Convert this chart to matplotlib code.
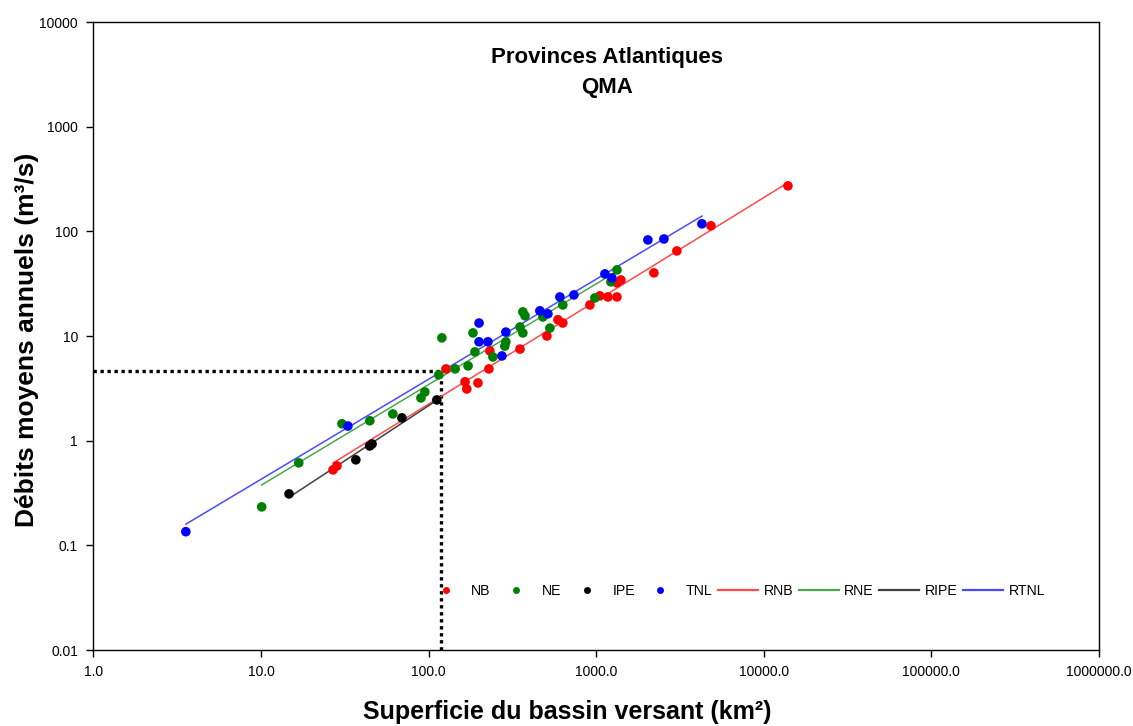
import numpy as np
import matplotlib
matplotlib.use("Agg")
import matplotlib.pyplot as plt
from matplotlib.lines import Line2D

plt.rcParams['font.family'] = ['Liberation Sans', 'DejaVu Sans']

# ---------------- data ----------------
nb_area = [26.9, 28.4, 127, 165, 169, 197, 229, 232, 351, 508, 591, 632, 917, 1052,
           1175, 1330, 1330, 1404, 2209, 3030, 4835, 13930]
nb_flow = [0.526, 0.574, 4.85, 3.65, 3.12, 3.56, 4.85, 7.2, 7.5, 10.0, 14.3, 13.3, 19.8,
           24.2, 23.6, 23.6, 32.2, 34.3, 40.1, 65.0, 113, 272]

ne_area = [10.1, 16.8, 30.4, 44.6, 61.2, 90, 95, 115, 120, 144, 172, 184, 189, 242, 289,
           285, 351, 365, 365, 376, 481, 529, 632, 982, 1224, 1330]
ne_flow = [0.233, 0.614, 1.45, 1.55, 1.80, 2.56, 2.92, 4.25, 9.6, 4.85, 5.18, 10.7, 7.05,
           6.3, 8.8, 8.0, 12.2, 10.7, 17.0, 15.6, 15.2, 11.9, 19.8, 23.1, 32.9, 42.8]

ipe_area = [14.7, 36.8, 44.5, 46.0, 69.3, 112]
ipe_flow = [0.310, 0.656, 0.89, 0.93, 1.65, 2.45]

tnl_area = [3.56, 33, 200, 200, 226, 289, 274, 461, 515, 607, 736, 1127, 1241, 2034,
            2535, 4273]
tnl_flow = [0.135, 1.38, 13.3, 8.8, 8.8, 10.9, 6.45, 17.4, 16.3, 23.6, 24.7, 39.2, 35.9,
            82.8, 84.5, 118]

ref_area = 118
ref_flow = 4.64

x_ticks = [1, 10, 100, 1000, 10000, 100000, 1000000]
x_tick_labels = ["1.0", "10.0", "100.0", "1000.0", "10000.0", "100000.0", "1000000.0"]
y_ticks = [0.01, 0.1, 1, 10, 100, 1000, 10000]
y_tick_labels = ["0.01", "0.1", "1", "10", "100", "1000", "10000"]

series = [
    ("NB", "RNB", nb_area, nb_flow, "#ff0000", "#ff4a4a"),
    ("NE", "RNE", ne_area, ne_flow, "#008000", "#4ca64c"),
    ("IPE", "RIPE", ipe_area, ipe_flow, "#000000", "#404040"),
    ("TNL", "RTNL", tnl_area, tnl_flow, "#0000ff", "#4a4aff"),
]

# ---------------- figure ----------------
W, H = 1133, 726
fig = plt.figure(figsize=(W / 100, H / 100), dpi=100)
ax = fig.add_axes([93.4 / W, 1 - 650 / H, (1099 - 93.4) / W, (650 - 22) / H])
ax.set_xscale("log")
ax.set_yscale("log")
ax.set_xlim(1, 1e6)
ax.set_ylim(0.01, 1e4)

# reference dotted lines
ax.plot([1, ref_area], [ref_flow, ref_flow], color="black", lw=2.4,
        linestyle=(0, (1, 1.1)), zorder=1)
ax.plot([ref_area, ref_area], [0.01, ref_flow], color="black", lw=2.4,
        linestyle=(0, (1, 1.1)), zorder=1)

for name, rname, xs, ys, mc, lc in series:
    xs = np.asarray(xs, float)
    ys = np.asarray(ys, float)
    b, a = np.polyfit(np.log10(xs), np.log10(ys), 1)
    xl = np.array([xs.min(), xs.max()])
    ax.plot(xl, 10 ** (a + b * np.log10(xl)), color=lc, lw=1.1, zorder=2)
    ax.scatter(xs, ys, s=48, color=mc, edgecolors="none", zorder=3)

ax.xaxis.set_major_locator(matplotlib.ticker.FixedLocator(x_ticks))
ax.xaxis.set_major_formatter(matplotlib.ticker.FixedFormatter(x_tick_labels))
ax.yaxis.set_major_locator(matplotlib.ticker.FixedLocator(y_ticks))
ax.yaxis.set_major_formatter(matplotlib.ticker.FixedFormatter(y_tick_labels))
ax.xaxis.set_minor_locator(matplotlib.ticker.NullLocator())
ax.yaxis.set_minor_locator(matplotlib.ticker.NullLocator())
ax.tick_params(axis="both", direction="out", length=5, width=1, labelsize=10,
               colors="black", pad=6)
for sp in ax.spines.values():
    sp.set_linewidth(1.0)

fig.text(567 / W, 1 - 712 / H, "Superficie du bassin versant (km²)", ha="center",
         va="center", fontsize=18, fontweight="bold")
fig.text(27 / W, 1 - 340 / H, "Débits moyens annuels (m³/s)", ha="center",
         va="center", rotation=90, fontsize=19, fontweight="bold")

fig.text(607 / W, 1 - 57 / H, "Provinces Atlantiques", ha="center", va="center",
         fontsize=16, fontweight="bold")
fig.text(607 / W, 1 - 88 / H, "QMA", ha="center", va="center",
         fontsize=16, fontweight="bold")

# legend
handles = []
labels = []
for name, rname, xs, ys, mc, lc in series:
    handles.append(Line2D([], [], linestyle="none", marker="o", markersize=5,
                          markerfacecolor=mc, markeredgecolor="none"))
    labels.append(name)
for name, rname, xs, ys, mc, lc in series:
    handles.append(Line2D([], [], color=lc, lw=1.6))
    labels.append(rname)
leg = fig.legend(handles, labels, loc="center left", bbox_to_anchor=(426 / W, 1 - 591 / H),
                 ncol=8, frameon=False, fontsize=10.2, handlelength=2.8,
                 handletextpad=0.4, columnspacing=0.4, borderaxespad=0, borderpad=0)

fig.savefig("out.png", dpi=100)
